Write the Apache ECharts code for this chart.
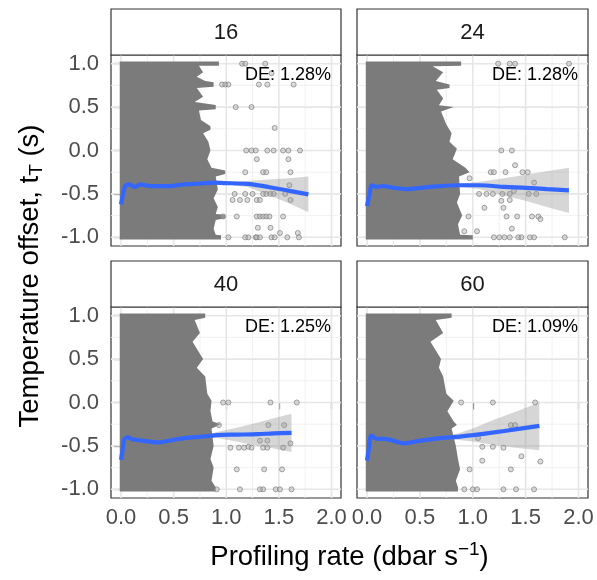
<!DOCTYPE html>
<html><head><meta charset="utf-8">
<script src="https://cdn.jsdelivr.net/npm/echarts@6/dist/echarts.min.js"></script>
<style>html,body{margin:0;padding:0;background:#fff}#c{width:597px;height:580px}</style>
</head><body><div id="c"></div>
<script>
// ---------- data ----------
const facets = ['16', '24', '40', '60'];
const deLabels = ['DE: 1.28%', 'DE: 1.28%', 'DE: 1.25%', 'DE: 1.09%'];
const xTicks = [0, 0.5, 1, 1.5, 2];
const xMinor = [0.25, 0.75, 1.25, 1.75];
const yTicks = [-1, -0.5, 0, 0.5, 1];
const yMinor = [-0.75, -0.25, 0.25, 0.75];

// right edge of the dense point cloud [x, y] (top to bottom)
const dense16 = [[0.93,1.025],[0.93,0.975],[0.74,0.975],[0.78,0.9],[0.72,0.85],[0.80,0.80],[0.88,0.785],[0.88,0.735],[0.72,0.72],[0.78,0.62],[0.70,0.56],[0.90,0.525],[0.90,0.475],[0.74,0.46],[0.76,0.35],[0.85,0.28],[0.85,0.24],[0.78,0.2],[0.83,0.1],[0.85,0.0],[0.82,-0.1],[0.86,-0.2],[0.99,-0.23],[0.99,-0.27],[0.90,-0.3],[0.92,-0.45],[0.88,-0.55],[0.92,-0.65],[0.90,-0.73],[0.99,-0.74],[0.99,-0.78],[0.90,-0.8],[0.88,-0.9],[0.90,-0.97],[0.95,-0.975],[0.95,-1.025]];
const dense24 = [[0.89,1.025],[0.89,0.975],[0.62,0.97],[0.72,0.9],[0.65,0.8],[0.78,0.76],[0.78,0.72],[0.66,0.7],[0.72,0.6],[0.68,0.52],[0.82,0.5],[0.70,0.45],[0.75,0.3],[0.80,0.2],[0.78,0.1],[0.85,0.02],[0.81,-0.1],[0.93,-0.2],[0.97,-0.25],[0.87,-0.3],[0.88,-0.5],[0.85,-0.6],[0.90,-0.75],[0.86,-0.85],[0.88,-0.97],[1.0,-0.975],[1.0,-1.025]];
const dense40 = [[0.80,1.025],[0.80,0.975],[0.70,0.95],[0.75,0.8],[0.68,0.7],[0.78,0.5],[0.72,0.4],[0.80,0.3],[0.82,0.1],[0.86,0.02],[0.85,-0.1],[0.87,-0.22],[0.95,-0.25],[0.86,-0.3],[0.88,-0.5],[0.85,-0.65],[0.88,-0.75],[0.86,-0.9],[0.90,-0.975],[0.90,-1.025]];
const dense60 = [[0.80,1.025],[0.80,0.975],[0.65,0.95],[0.72,0.8],[0.60,0.7],[0.70,0.5],[0.68,0.4],[0.72,0.3],[0.75,0.1],[0.82,0.02],[0.76,-0.1],[0.82,-0.22],[0.85,-0.26],[0.80,-0.3],[0.84,-0.5],[0.86,-0.65],[0.88,-0.77],[0.84,-0.9],[0.86,-0.975],[0.86,-1.025]];

// sparse points outside the dense cloud
const pts16 = [[1.15,1.0],[1.18,1.0],[1.37,1.0],[1.43,0.89],[0.96,0.76],[0.99,0.76],[1.02,0.76],[1.31,0.76],[1.39,0.76],[1.64,0.76],[1.09,0.5],[1.24,0.5],[1.46,0.26],[1.19,0.0],[1.24,0.0],[1.28,0.0],[1.39,0.0],[1.45,0.0],[1.54,0.0],[1.59,0.0],[1.70,0.0],[1.29,-0.1],[1.59,-0.1],[1.18,-0.25],[1.35,-0.25],[1.38,-0.25],[1.61,-0.25],[1.6,-0.4],[1.08,-0.5],[1.18,-0.5],[1.25,-0.5],[1.35,-0.5],[1.38,-0.5],[1.42,-0.5],[1.45,-0.5],[1.56,-0.5],[1.06,-0.57],[1.13,-0.57],[1.20,-0.57],[1.29,-0.57],[1.32,-0.57],[1.61,-0.57],[0.97,-0.76],[1.10,-0.76],[1.29,-0.76],[1.32,-0.76],[1.35,-0.76],[1.38,-0.76],[1.41,-0.76],[1.54,-0.76],[1.30,-0.89],[1.42,-0.89],[1.51,-0.95],[1.68,-0.95],[1.02,-1.0],[1.18,-1.0],[1.21,-1.0],[1.28,-1.0],[1.29,-1.0],[1.32,-1.0],[1.43,-1.0],[1.46,-1.0],[1.58,-1.0],[1.69,-1.0]];
const pts24 = [[1.24,1.0],[1.35,1.0],[1.40,1.0],[1.91,1.0],[1.27,0.0],[1.37,0.0],[1.40,-0.17],[1.17,-0.25],[1.20,-0.25],[1.31,-0.25],[1.47,-0.25],[1.52,-0.25],[0.97,-0.32],[1.58,-0.37],[1.39,-0.465],[1.06,-0.5],[1.13,-0.5],[1.19,-0.5],[1.28,-0.5],[1.35,-0.5],[1.53,-0.5],[1.60,-0.5],[1.27,-0.58],[1.35,-0.57],[1.11,-0.66],[1.29,-0.66],[0.96,-0.76],[1.32,-0.76],[1.42,-0.76],[1.56,-0.76],[1.62,-0.76],[1.64,-0.79],[1.37,-0.90],[0.92,-0.93],[1.04,-0.93],[1.20,-1.0],[1.25,-1.0],[1.30,-1.0],[1.35,-1.0],[1.43,-1.0],[1.46,-1.0],[1.54,-1.0],[1.58,-1.0],[1.87,-1.0]];
const pts40 = [[0.97,0.0],[1.02,0.0],[1.42,0.0],[1.67,0.0],[0.93,-0.26],[1.40,-0.26],[1.55,-0.26],[1.32,-0.44],[1.39,-0.44],[1.61,-0.47],[1.04,-0.52],[1.12,-0.52],[1.17,-0.52],[1.21,-0.51],[1.24,-0.52],[1.35,-0.52],[1.39,-0.52],[1.54,-0.52],[1.10,-0.77],[1.36,-0.77],[1.53,-0.77],[0.91,-1.0],[1.13,-1.0],[1.32,-1.0],[1.35,-1.0],[1.47,-1.0],[1.51,-1.0],[1.62,-1.0]];
const pts60 = [[0.89,0.0],[1.19,0.0],[1.59,0.0],[1.36,-0.26],[1.40,-0.26],[1.05,-0.41],[1.09,-0.51],[1.19,-0.51],[1.29,-0.52],[1.46,-0.62],[1.09,-0.67],[1.64,-0.68],[0.97,-0.77],[1.36,-0.77],[0.92,-1.0],[1.0,-1.0],[1.04,-1.0],[1.29,-1.0],[1.41,-1.0],[1.58,-1.0]];

// smooth fits and confidence band
const smX16 = [0, 0.02, 0.04, 0.08, 0.13, 0.18, 0.28, 0.45, 0.6, 0.75, 0.88, 0.98, 1.2, 1.4, 1.6, 1.78];
const smY16 = [-0.62, -0.50, -0.41, -0.39, -0.42, -0.39, -0.41, -0.41, -0.39, -0.38, -0.37, -0.375, -0.385, -0.42, -0.465, -0.505];
const hi16 = [-0.58, -0.47, -0.39, -0.375, -0.405, -0.375, -0.395, -0.395, -0.375, -0.365, -0.355, -0.36, -0.35, -0.335, -0.32, -0.30];
const lo16 = [-0.66, -0.53, -0.43, -0.405, -0.435, -0.405, -0.425, -0.425, -0.405, -0.395, -0.385, -0.39, -0.42, -0.51, -0.61, -0.71];

const smX24 = [0, 0.02, 0.047, 0.09, 0.157, 0.25, 0.376, 0.5, 0.69, 0.85, 1.066, 1.3, 1.5, 1.7, 1.91];
const smY24 = [-0.64, -0.52, -0.40, -0.42, -0.41, -0.43, -0.445, -0.43, -0.41, -0.40, -0.40, -0.42, -0.43, -0.445, -0.46];
const hi24 = [-0.60, -0.49, -0.38, -0.405, -0.395, -0.415, -0.43, -0.415, -0.395, -0.385, -0.36, -0.32, -0.28, -0.24, -0.20];
const lo24 = [-0.68, -0.55, -0.42, -0.435, -0.425, -0.445, -0.46, -0.445, -0.425, -0.415, -0.445, -0.52, -0.58, -0.65, -0.72];

const smX40 = [0, 0.015, 0.03, 0.06, 0.1, 0.2, 0.35, 0.5, 0.6, 0.8, 0.91, 1.1, 1.3, 1.45, 1.62];
const smY40 = [-0.66, -0.55, -0.43, -0.40, -0.42, -0.44, -0.46, -0.43, -0.41, -0.39, -0.375, -0.37, -0.365, -0.355, -0.35];
const hi40 = [-0.62, -0.52, -0.41, -0.385, -0.405, -0.425, -0.445, -0.415, -0.395, -0.375, -0.34, -0.29, -0.23, -0.18, -0.13];
const lo40 = [-0.70, -0.58, -0.45, -0.415, -0.435, -0.455, -0.475, -0.445, -0.425, -0.405, -0.41, -0.45, -0.50, -0.53, -0.57];

const smX60 = [0, 0.015, 0.04, 0.09, 0.15, 0.22, 0.34, 0.5, 0.69, 0.85, 1.0, 1.2, 1.4, 1.63];
const smY60 = [-0.67, -0.55, -0.38, -0.42, -0.42, -0.43, -0.47, -0.44, -0.41, -0.395, -0.375, -0.345, -0.31, -0.27];
const hi60 = [-0.63, -0.52, -0.36, -0.405, -0.405, -0.415, -0.455, -0.425, -0.395, -0.36, -0.30, -0.20, -0.11, 0.0];
const lo60 = [-0.71, -0.58, -0.40, -0.435, -0.435, -0.445, -0.485, -0.455, -0.425, -0.43, -0.45, -0.49, -0.52, -0.55];

// ---------- layout ----------
const X_MIN = -0.095, X_MAX = 2.09, Y_MIN = -1.1, Y_MAX = 1.1;
const panels = [
  {left: 111, top: 55, width: 230, height: 191},
  {left: 357, top: 55, width: 231, height: 191},
  {left: 111, top: 307, width: 230, height: 191},
  {left: 357, top: 307, width: 231, height: 191}
];
const STRIP_H = 46;
const FONT = '"Liberation Sans", Arial, Helvetica, sans-serif';
const TICK_FS = 22, TITLE_FS = 27.5;
const denseAll = [dense16, dense24, dense40, dense60];
const ptsAll = [pts16, pts24, pts40, pts60];
const smXAll = [smX16, smX24, smX40, smX60];
const smYAll = [smY16, smY24, smY40, smY60];
const hiAll = [hi16, hi24, hi40, hi60];
const loAll = [lo16, lo24, lo40, lo60];

const grids = [], xAxes = [], yAxes = [], series = [], graphics = [];
panels.forEach((p, i) => {
  grids.push({left: p.left, top: p.top, width: p.width, height: p.height, show: true,
    borderColor: '#333333', borderWidth: 1.2, backgroundColor: '#fff'});
  const bottomRow = i >= 2, leftCol = i % 2 === 0;
  xAxes.push({type: 'value', gridIndex: i, min: X_MIN, max: X_MAX,
    axisLine: {show: false}, splitLine: {show: false},
    axisTick: {show: bottomRow, length: 7, lineStyle: {color: '#333', width: 1.2}, customValues: xTicks},
    axisLabel: {show: bottomRow, customValues: xTicks, margin: 9, color: '#4d4d4d', fontSize: TICK_FS,
      fontFamily: FONT, formatter: v => v.toFixed(1)}});
  yAxes.push({type: 'value', gridIndex: i, min: Y_MIN, max: Y_MAX,
    axisLine: {show: false}, splitLine: {show: false},
    axisTick: {show: leftCol, length: 7, lineStyle: {color: '#333', width: 1.2}, customValues: yTicks},
    axisLabel: {show: leftCol, customValues: yTicks, margin: 12, color: '#4d4d4d', fontSize: TICK_FS,
      fontFamily: FONT, formatter: v => v.toFixed(1)}});

  // grid lines
  series.push({type: 'custom', xAxisIndex: i, yAxisIndex: i, z: 1, silent: true, data: [[0, 0]],
    renderItem: (params, api) => {
      const ch = [];
      const addV = (v, w, c) => { const a = api.coord([v, Y_MIN]), b = api.coord([v, Y_MAX]);
        ch.push({type: 'line', shape: {x1: a[0], y1: a[1], x2: b[0], y2: b[1]}, style: {stroke: c, lineWidth: w}}); };
      const addH = (v, w, c) => { const a = api.coord([X_MIN, v]), b = api.coord([X_MAX, v]);
        ch.push({type: 'line', shape: {x1: a[0], y1: a[1], x2: b[0], y2: b[1]}, style: {stroke: c, lineWidth: w}}); };
      xMinor.forEach(v => addV(v, 0.9, '#efefef'));
      yMinor.forEach(v => addH(v, 0.9, '#efefef'));
      xTicks.forEach(v => addV(v, 1.6, '#e6e6e6'));
      yTicks.forEach(v => addH(v, 1.6, '#e6e6e6'));
      return {type: 'group', children: ch};
    }});
  // dense cloud
  const poly = [[-0.012, 1.025]].concat(denseAll[i]).concat([[-0.012, -1.025]]);
  series.push({type: 'custom', xAxisIndex: i, yAxisIndex: i, z: 2, silent: true, data: [[0, 0]],
    renderItem: (params, api) => ({type: 'polygon', shape: {points: poly.map(q => api.coord(q))},
      style: {fill: '#7b7b7b'}})});
  // sparse points
  series.push({type: 'scatter', xAxisIndex: i, yAxisIndex: i, z: 3, silent: true, symbol: 'circle', symbolSize: 5,
    data: ptsAll[i], itemStyle: {color: 'rgba(175,175,175,0.55)', borderColor: '#7f7f7f', borderWidth: 0.9}});
  // confidence band
  const band = smXAll[i].map((x, k) => [x, hiAll[i][k]]).concat(smXAll[i].map((x, k) => [x, loAll[i][k]]).reverse());
  series.push({type: 'custom', xAxisIndex: i, yAxisIndex: i, z: 4, silent: true, data: [[0, 0]],
    renderItem: (params, api) => ({type: 'polygon', shape: {points: band.map(q => api.coord(q))},
      style: {fill: 'rgba(153,153,153,0.4)'}})});
  // smooth line
  series.push({type: 'line', xAxisIndex: i, yAxisIndex: i, z: 5, silent: true, showSymbol: false, smooth: 0.3,
    data: smXAll[i].map((x, k) => [x, smYAll[i][k]]), lineStyle: {color: '#3366FF', width: 4.2}});

  // strip
  graphics.push({type: 'rect', shape: {x: p.left, y: p.top - STRIP_H, width: p.width, height: STRIP_H},
    style: {fill: '#ffffff', stroke: '#333333', lineWidth: 1.2}, z: 10});
  graphics.push({type: 'text', x: p.left + p.width / 2, y: p.top - STRIP_H / 2 + 1, z: 11,
    style: {text: facets[i], font: TICK_FS + 'px ' + FONT, fill: '#1a1a1a', align: 'center', verticalAlign: 'middle'}});
  // DE label
  graphics.push({type: 'text', x: p.left + p.width - 10, y: p.top + 20, z: 11,
    style: {text: deLabels[i], font: '18px ' + FONT, fill: '#000', align: 'right', verticalAlign: 'middle'}});
});

// axis titles
graphics.push({type: 'text', x: 30, y: 276, rotation: Math.PI / 2, z: 11,
  style: {text: '{a|Temperature offset, t}{b|T}{a| (s)}', align: 'center', verticalAlign: 'middle',
    rich: {a: {fontSize: TITLE_FS, fontFamily: FONT, fill: '#000', color: '#000'},
           b: {fontSize: 19, fontFamily: FONT, fill: '#000', color: '#000', padding: [13, 0, 0, 0]}}}});
graphics.push({type: 'text', x: 349.5, y: 557, z: 11,
  style: {text: '{a|Profiling rate (dbar s}{b|\u22121}{a|)}', align: 'center', verticalAlign: 'middle',
    rich: {a: {fontSize: TITLE_FS, fontFamily: FONT, fill: '#000', color: '#000'},
           b: {fontSize: 19, fontFamily: FONT, fill: '#000', color: '#000', padding: [0, 0, 15, 0]}}}});

const chart = echarts.init(document.getElementById('c'), null, {renderer: 'canvas'});
chart.setOption({animation: false, backgroundColor: '#fff', grid: grids, xAxis: xAxes, yAxis: yAxes,
  series: series, graphic: {elements: graphics}});
</script></body></html>
